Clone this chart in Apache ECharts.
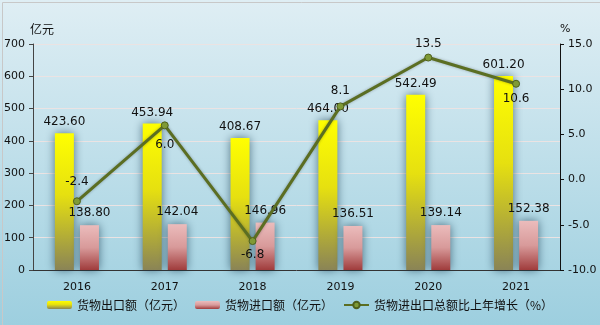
<!DOCTYPE html>
<html><head><meta charset="utf-8">
<script src="https://cdn.jsdelivr.net/npm/echarts@6/dist/echarts.min.js"></script>
<style>html,body{margin:0;padding:0;}#c{width:600px;height:325px;}</style>
</head><body><div id="c"></div>
<script>
const years = ['2016','2017','2018','2019','2020','2021'];
const exportVals = [423.60, 453.94, 408.67, 464.00, 542.49, 601.20];
const importVals = [138.80, 142.04, 146.96, 136.51, 139.14, 152.38];
const growthVals = [-2.4, 6.0, -6.8, 8.1, 13.5, 10.6];
const growthLabelPos = ['top','bottom','bottom','top','top','bottom'];
const growthLabelDist = [9, 10, 4, 6, 4, 5];
const names = ['货物出口额（亿元）','货物进口额（亿元）','货物进出口总额比上年增长（%）'];

const chart = echarts.init(document.getElementById('c'));
const font = 'DejaVu Sans';
chart.setOption({
  backgroundColor: new echarts.graphic.LinearGradient(0,0,0,1,[{offset:0,color:'#dfeef4'},{offset:1,color:'#9dcfdf'}]),
  animation:false,
  textStyle:{fontFamily:font},
  graphic:[{type:'rect',left:0,top:0,shape:{x:0.5,y:0.5,width:599,height:324},style:{fill:'none',stroke:'#c8c8c8',lineWidth:1},silent:true}],
  grid:{left:33,right:40,top:44,bottom:55},
  legend:{
    bottom:9, itemWidth:25, itemHeight:8, itemGap:10,
    textStyle:{fontSize:12,color:'#111',fontFamily:'Noto Sans CJK SC'},
    data:[names[0],names[1],{name:names[2]}]
  },
  xAxis:{
    type:'category', data:years,
    axisLine:{lineStyle:{color:'#333'}},
    axisTick:{show:false},
    axisLabel:{fontSize:11,color:'#111',margin:12}
  },
  yAxis:[{
    type:'value', min:0, max:700, interval:100,
    name:'亿元', nameLocation:'end', nameGap:9,
    nameTextStyle:{fontSize:12,color:'#111',align:'left',padding:[0,0,0,-3],fontFamily:'Noto Sans CJK SC'},
    axisLine:{show:true,lineStyle:{color:'#444'}},
    axisTick:{show:true,length:4,lineStyle:{color:'#444'}},
    axisLabel:{fontSize:11,color:'#111',margin:8},
    splitLine:{lineStyle:{color:'#ebe3e3'}}
  },{
    type:'value', min:-10, max:15, interval:5,
    name:'%', nameLocation:'end', nameGap:9,
    nameTextStyle:{fontSize:11,color:'#111',align:'left',padding:[0,0,0,0]},
    axisLine:{show:true,lineStyle:{color:'#111'}},
    axisTick:{show:true,length:4,lineStyle:{color:'#111'}},
    axisLabel:{fontSize:11,color:'#111',margin:8,formatter:v=>v.toFixed(1)},
    splitLine:{show:false}
  }],
  series:[{
    name:names[0], type:'bar', data:exportVals, barWidth:19, barGap:'32%',
    itemStyle:{
      color:new echarts.graphic.LinearGradient(0,0,0,1,[{offset:0,color:'#ffff00'},{offset:0.45,color:'#e6e010'},{offset:1,color:'#8a8456'}]),
      shadowBlur:10, shadowColor:'rgba(20,55,75,0.65)'
    },
    label:{show:true,position:'top',distance:5,fontSize:12,color:'#111',formatter:p=>p.value.toFixed(2)}
  },{
    name:names[1], type:'bar', data:importVals, barWidth:19,
    itemStyle:{
      color:new echarts.graphic.LinearGradient(0,0,0,1,[{offset:0,color:'#ebbcbc'},{offset:0.5,color:'#d89a9a'},{offset:1,color:'#a03c3c'}]),
      shadowBlur:10, shadowColor:'rgba(20,55,75,0.65)'
    },
    label:{show:true,position:'top',distance:6,fontSize:12,color:'#111',formatter:p=>p.value.toFixed(2)}
  },{
    name:names[2], type:'line', yAxisIndex:1,
    data:growthVals.map((v,i)=>({value:v,label:{position:growthLabelPos[i],distance:growthLabelDist[i]}})),
    symbol:'circle', symbolSize:7,
    lineStyle:{color:'#5b6e22',width:3,shadowBlur:3,shadowColor:'rgba(0,0,0,0.3)'},
    itemStyle:{color:'#7f9a36',borderColor:'#4e601c',borderWidth:1},
    label:{show:true,fontSize:12,color:'#111',formatter:p=>p.value.toFixed(1)}
  }]
});
</script></body></html>
